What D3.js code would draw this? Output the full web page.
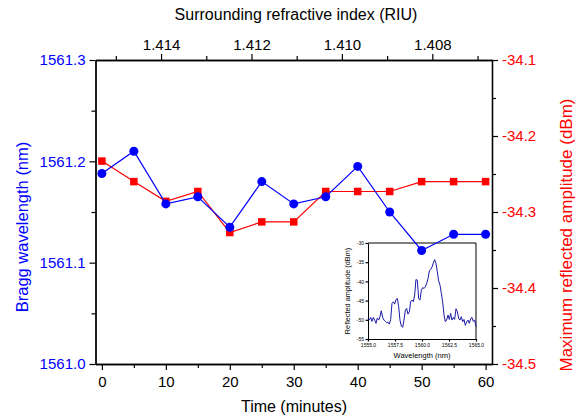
<!DOCTYPE html>
<html>
<head>
<meta charset="utf-8">
<script src="https://cdn.jsdelivr.net/npm/d3@7"></script>
<style>
  body { margin: 0; background: #fff; }
  svg { display: block; font-family: "Liberation Sans", Arial, sans-serif; }
</style>
</head>
<body>
<svg id="chart" width="576" height="420"></svg>
<script>
// Main series: time in minutes
const times = [0, 5, 10, 15, 20, 25, 30, 35, 40, 45, 50, 55, 60];
const braggWavelength = [1561.188, 1561.210, 1561.158, 1561.165, 1561.135, 1561.180, 1561.158,
  1561.165, 1561.195, 1561.150, 1561.112, 1561.128, 1561.128];
const reflectedAmplitude = [-34.233, -34.260, -34.286, -34.273, -34.327, -34.313, -34.313,
  -34.273, -34.273, -34.273, -34.260, -34.260, -34.260];

// Tick values
const timeTicks = [0, 10, 20, 30, 40, 50, 60];
const timeMinor = [5, 15, 25, 35, 45, 55];
const riTicks = [1.414, 1.412, 1.410, 1.408];
const riMinor = [1.415, 1.413, 1.411, 1.409, 1.407];
const braggTicks = [1561.0, 1561.1, 1561.2, 1561.3];
const braggMinor = [1561.05, 1561.15, 1561.25];
const ampTicks = [-34.1, -34.2, -34.3, -34.4, -34.5];
const ampMinor = [-34.15, -34.25, -34.35, -34.45];

// Inset: reflection spectrum
const spectrumWavelength = [1555.00, 1555.12, 1555.25, 1555.37, 1555.49, 1555.62, 1555.74, 1555.86,
  1555.99, 1556.11, 1556.23, 1556.36, 1556.48, 1556.60, 1556.73, 1556.85, 1556.98, 1557.10,
  1557.22, 1557.35, 1557.47, 1557.59, 1557.72, 1557.84, 1557.96, 1558.09, 1558.21, 1558.33,
  1558.46, 1558.58, 1558.70, 1558.83, 1558.95, 1559.07, 1559.20, 1559.32, 1559.44, 1559.57,
  1559.69, 1559.81, 1559.94, 1560.06, 1560.19, 1560.31, 1560.43, 1560.56, 1560.68, 1560.80,
  1560.93, 1561.05, 1561.17, 1561.30, 1561.42, 1561.54, 1561.67, 1561.79, 1561.91, 1562.04,
  1562.16, 1562.28, 1562.41, 1562.53, 1562.65, 1562.78, 1562.90, 1563.02, 1563.15, 1563.27,
  1563.40, 1563.52, 1563.64, 1563.77, 1563.89, 1564.01, 1564.14, 1564.26, 1564.38, 1564.51,
  1564.63, 1564.75, 1564.88, 1565.00];
const spectrumAmplitude = [-49.72, -50.07, -49.38, -50.42, -49.38, -50.07, -50.93, -49.55,
  -50.07, -49.20, -47.65, -49.38, -50.07, -50.42, -50.76, -50.59, -51.11, -49.90,
  -45.74, -45.31, -45.92, -44.71, -44.45, -46.61, -50.07, -51.63, -51.97, -50.07,
  -47.47, -47.04, -48.51, -47.91, -45.31, -44.88, -45.31, -43.58, -39.52, -39.69,
  -44.45, -44.88, -42.28, -41.59, -41.85, -41.42, -40.55, -39.26, -37.27, -36.92,
  -36.23, -35.19, -34.33, -35.36, -37.53, -39.86, -40.99, -43.15, -45.31, -48.77,
  -50.50, -50.07, -48.77, -49.90, -48.34, -50.07, -49.38, -49.90, -47.13, -47.91,
  -49.64, -50.07, -49.20, -50.50, -49.90, -51.45, -50.50, -50.07, -50.93, -49.64,
  -49.38, -50.42, -50.07, -51.80];
const insetXTicks = [1555, 1557.5, 1560, 1562.5, 1565];
const insetYTicks = [-30, -35, -40, -45, -50, -55];

const blue = "#0000ff";
const red = "#ff0000";

const svg = d3.select("#chart");

// plot box
const plotLeft = 95.5, plotRight = 492, plotTop = 60, plotBottom = 364;

const x = d3.scaleLinear().domain([-1, 61]).range([plotLeft, plotRight]);
const xTop = d3.scaleLinear().domain([1.41545, 1.40668]).range([plotLeft, plotRight]);
const yLeft = d3.scaleLinear().domain([1561.0, 1561.3]).range([plotBottom, plotTop]);
const yRight = d3.scaleLinear().domain([-34.5, -34.1]).range([plotBottom, plotTop]);

// inset box
const iLeft = 368, iRight = 476, iTop = 243, iBottom = 339;
const ix = d3.scaleLinear().domain([1555, 1565]).range([iLeft, iRight]);
const iy = d3.scaleLinear().domain([-55, -30]).range([iBottom, iTop]);

function styleAxis(g, size, color) {
  g.attr("color", "#000");
  g.select(".domain").attr("stroke-width", 1.3);
  g.selectAll(".tick line").attr("stroke-width", 1.2);
  g.selectAll("text").attr("font-size", size).attr("font-family", null).attr("fill", color);
}

// ---- Inset (drawn first, main data goes on top) ----
const inset = svg.append("g");

inset.append("g")
  .attr("transform", `translate(0,${iBottom})`)
  .call(d3.axisBottom(ix).tickValues(insetXTicks).tickSize(2.5).tickSizeOuter(0)
    .tickPadding(1.5).tickFormat(d => d.toFixed(1)))
  .call(g => styleAxis(g, 5, "#000"))
  .call(g => g.select(".domain").attr("stroke-width", 1));

inset.append("g")
  .attr("transform", `translate(${iLeft},0)`)
  .call(d3.axisLeft(iy).tickValues(insetYTicks).tickSize(2.5).tickSizeOuter(0)
    .tickPadding(1.5).tickFormat(d => String(d)))
  .call(g => styleAxis(g, 5, "#000"))
  .call(g => g.select(".domain").attr("stroke-width", 1));

inset.append("line")
  .attr("x1", iLeft).attr("x2", iRight).attr("y1", iTop).attr("y2", iTop)
  .attr("stroke", "#000").attr("stroke-width", 1.2);
inset.append("line")
  .attr("x1", iRight).attr("x2", iRight).attr("y1", iTop).attr("y2", iBottom)
  .attr("stroke", "#000").attr("stroke-width", 1);

const spectrum = spectrumWavelength.map((w, i) => [w, spectrumAmplitude[i]]);
inset.append("path")
  .datum(spectrum)
  .attr("fill", "none")
  .attr("stroke", "#1a1aa6")
  .attr("stroke-width", 1)
  .attr("d", d3.line().x(d => ix(d[0])).y(d => iy(d[1])));

inset.append("text")
  .attr("x", (iLeft + iRight) / 2).attr("y", 358)
  .attr("text-anchor", "middle").attr("font-size", 7.5)
  .text("Wavelength (nm)");

inset.append("text")
  .attr("transform", `translate(349.5,${(iTop + iBottom) / 2}) rotate(-90)`)
  .attr("text-anchor", "middle").attr("font-size", 7.3)
  .text("Reflected amplitude (dBm)");

// ---- Main axes ----
svg.append("g")
  .attr("transform", `translate(0,${plotBottom})`)
  .call(d3.axisBottom(x).tickValues(timeMinor).tickSize(4).tickSizeOuter(0).tickFormat(""))
  .call(g => styleAxis(g, 15, "#000"));
svg.append("g")
  .attr("transform", `translate(0,${plotBottom})`)
  .call(d3.axisBottom(x).tickValues(timeTicks).tickSize(6).tickSizeOuter(0).tickPadding(6))
  .call(g => styleAxis(g, 15, "#000"));

svg.append("g")
  .attr("transform", `translate(0,${plotTop})`)
  .call(d3.axisTop(xTop).tickValues(riMinor).tickSize(4).tickSizeOuter(0).tickFormat(""))
  .call(g => styleAxis(g, 15, "#000"));
svg.append("g")
  .attr("transform", `translate(0,${plotTop})`)
  .call(d3.axisTop(xTop).tickValues(riTicks).tickSize(6).tickSizeOuter(0).tickPadding(4)
    .tickFormat(d => d.toFixed(3)))
  .call(g => styleAxis(g, 15, "#000"));

svg.append("g")
  .attr("transform", `translate(${plotLeft},0)`)
  .call(d3.axisLeft(yLeft).tickValues(braggMinor).tickSize(4).tickSizeOuter(0).tickFormat(""))
  .call(g => styleAxis(g, 15, blue));
svg.append("g")
  .attr("transform", `translate(${plotLeft},0)`)
  .call(d3.axisLeft(yLeft).tickValues(braggTicks).tickSize(6).tickSizeOuter(0).tickPadding(4)
    .tickFormat(d => d.toFixed(1)))
  .call(g => styleAxis(g, 15, blue));

svg.append("g")
  .attr("transform", `translate(${plotRight},0)`)
  .call(d3.axisRight(yRight).tickValues(ampMinor).tickSize(4).tickSizeOuter(0).tickFormat(""))
  .call(g => styleAxis(g, 15, red));
svg.append("g")
  .attr("transform", `translate(${plotRight},0)`)
  .call(d3.axisRight(yRight).tickValues(ampTicks).tickSize(6).tickSizeOuter(0).tickPadding(4)
    .tickFormat(d => d.toFixed(1)))
  .call(g => styleAxis(g, 15, red));

// axis titles
svg.append("text")
  .attr("x", 296).attr("y", 20).attr("text-anchor", "middle").attr("font-size", 16)
  .text("Surrounding refractive index (RIU)");
svg.append("text")
  .attr("x", 294).attr("y", 412).attr("text-anchor", "middle").attr("font-size", 16)
  .text("Time (minutes)");
svg.append("text")
  .attr("transform", "translate(28,227) rotate(-90)")
  .attr("text-anchor", "middle").attr("font-size", 16.5).attr("fill", blue)
  .text("Bragg wavelength (nm)");
svg.append("text")
  .attr("transform", "translate(572,235) rotate(-90)")
  .attr("text-anchor", "middle").attr("font-size", 17).attr("fill", red)
  .text("Maximum reflected amplitude (dBm)");

// ---- Series ----
const ampData = times.map((t, i) => [t, reflectedAmplitude[i]]);
const braggData = times.map((t, i) => [t, braggWavelength[i]]);

svg.append("path")
  .datum(ampData)
  .attr("fill", "none").attr("stroke", red).attr("stroke-width", 1.2)
  .attr("d", d3.line().x(d => x(d[0])).y(d => yRight(d[1])));

svg.selectAll(".amp")
  .data(ampData)
  .enter()
  .append("rect")
  .attr("class", "amp")
  .attr("x", d => x(d[0]) - 3.75)
  .attr("y", d => yRight(d[1]) - 3.75)
  .attr("width", 7.5)
  .attr("height", 7.5)
  .attr("fill", red);

svg.append("path")
  .datum(braggData)
  .attr("fill", "none").attr("stroke", blue).attr("stroke-width", 1.2)
  .attr("d", d3.line().x(d => x(d[0])).y(d => yLeft(d[1])));

svg.selectAll(".bragg")
  .data(braggData)
  .enter()
  .append("circle")
  .attr("class", "bragg")
  .attr("cx", d => x(d[0]))
  .attr("cy", d => yLeft(d[1]))
  .attr("r", 4.5)
  .attr("fill", blue);
</script>
</body>
</html>
